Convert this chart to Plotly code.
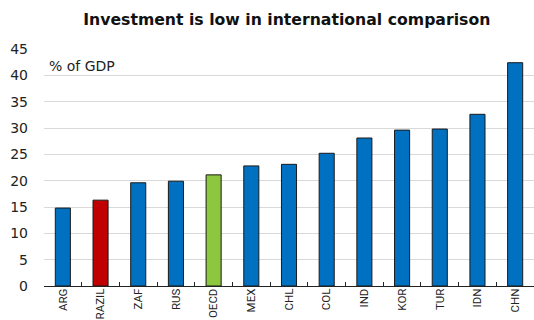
import plotly.graph_objects as go

# Gross fixed capital formation, % of GDP
countries = ["ARG", "BRAZIL", "ZAF", "RUS", "OECD", "MEX", "CHL", "COL",
             "IND", "KOR", "TUR", "IDN", "CHN"]
investment = [14.8, 16.3, 19.6, 19.9, 21.1, 22.8, 23.1, 25.2,
              28.1, 29.6, 29.8, 32.6, 42.4]

BLUE = "#0070C0"
RED = "#C00000"
GREEN = "#8DC63F"
highlight = {"BRAZIL": RED, "OECD": GREEN}
bar_colors = [highlight.get(c, BLUE) for c in countries]

WIDE = "DejaVu Sans, Verdana, sans-serif"
SLIM = "Roboto, Liberation Sans, sans-serif"

fig = go.Figure(
    go.Bar(
        x=countries,
        y=investment,
        marker=dict(color=bar_colors, line=dict(color="#1a1a1a", width=1)),
        width=0.4,
    )
)

fig.update_layout(
    width=534,
    height=320,
    margin=dict(l=44, r=0, t=49, b=34, autoexpand=False),
    paper_bgcolor="white",
    plot_bgcolor="white",
    showlegend=False,
    font=dict(family=WIDE, size=14, color="#222"),
    title=dict(
        text="<b>Investment is low in international comparison</b>",
        x=0.537,
        xanchor="center",
        y=0.938,
        yanchor="middle",
        font=dict(family=WIDE, size=15.7, color="#111"),
    ),
    annotations=[
        dict(
            text="% of GDP",
            xref="paper",
            yref="paper",
            x=0.006,
            y=0.93,
            xanchor="left",
            yanchor="middle",
            showarrow=False,
            font=dict(family=WIDE, size=14, color="#222"),
        )
    ],
)

fig.update_xaxes(
    tickangle=-90,
    showline=True,
    linecolor="#222",
    linewidth=1,
    ticks="inside",
    tickson="boundaries",
    ticklen=4,
    tickcolor="#222",
    showgrid=False,
    automargin=False,
    ticklabelstandoff=-3,
    tickfont=dict(family=SLIM, size=11.5, color="#222"),
)

fig.update_yaxes(
    range=[0, 45],
    tickvals=[0, 5, 10, 15, 20, 25, 30, 35, 40, 45],
    showgrid=True,
    gridcolor="#d9d9d9",
    gridwidth=1,
    zeroline=False,
    showline=False,
    ticks="",
    ticklabelstandoff=15,
    automargin=False,
    tickfont=dict(family=WIDE, size=14, color="#222"),
)

fig.write_html("out.html")
